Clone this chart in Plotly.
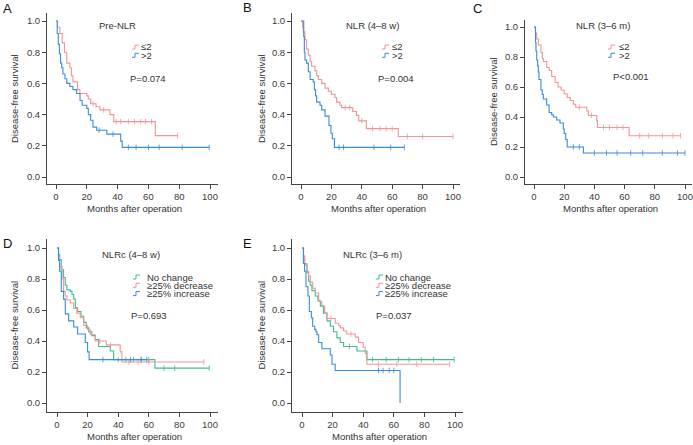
import numpy as np
import plotly.graph_objects as go

W, H = 693, 445
RED, BLUE, GREEN = "#F29595", "#3A8BDA", "#3FBD8E"
FONT = "Liberation Sans, Arial, sans-serif"

# Kaplan-Meier steps: time (months) where survival changes, survival from that time on
a_low_t = [0, 1, 2.5, 4, 5.5, 7, 9, 10, 11, 14, 15.5, 20, 21, 22.5, 26, 28.5, 35, 37.5, 64.5, 79]
a_low_s = [1.0, 0.96, 0.92, 0.86, 0.80, 0.73, 0.70, 0.65, 0.61, 0.56, 0.535, 0.52, 0.50, 0.47, 0.45, 0.43, 0.40, 0.355, 0.265, 0.265]
a_low_c = [24, 31, 39, 42, 47, 51, 55, 58, 62, 79]
a_high_t = [0, 0.8, 1.5, 2.2, 3, 3.7, 4.5, 5.8, 7, 9, 11, 13.4, 15.6, 17, 20, 21, 22.5, 24, 26.4, 33, 42, 43, 99.5]
a_high_s = [1.0, 0.92, 0.85, 0.79, 0.73, 0.70, 0.66, 0.63, 0.60, 0.58, 0.56, 0.535, 0.49, 0.46, 0.44, 0.40, 0.364, 0.32, 0.30, 0.275, 0.23, 0.19, 0.19]
a_high_c = [28, 37, 47, 52, 60, 67, 82, 99.5]

b_low_t = [0, 1, 1.5, 2.6, 3.7, 4.8, 6, 7, 9.2, 10.3, 11.4, 13.6, 15.8, 18, 20, 22.3, 23.4, 25.6, 26.7, 34, 36.5, 38, 43, 64, 100]
b_low_s = [1.0, 0.96, 0.93, 0.88, 0.82, 0.78, 0.74, 0.71, 0.68, 0.65, 0.625, 0.60, 0.57, 0.55, 0.53, 0.51, 0.48, 0.46, 0.445, 0.42, 0.395, 0.36, 0.31, 0.26, 0.26]
b_low_c = [29, 32, 40, 47, 52, 56, 60, 70, 80, 100]
b_high_t = [0, 1.8, 2.2, 2.6, 3.7, 4.8, 6, 8, 8.8, 9.6, 10.3, 12.5, 13.6, 15.8, 18.4, 19.7, 20.6, 22, 68]
b_high_s = [1.0, 0.90, 0.80, 0.75, 0.73, 0.675, 0.625, 0.61, 0.56, 0.52, 0.48, 0.46, 0.43, 0.39, 0.33, 0.28, 0.245, 0.19, 0.19]
b_high_c = [25, 28, 48, 59, 68]

c_low_t = [0, 1, 1.8, 2.9, 4.6, 5.5, 6.2, 8.4, 10, 11.7, 14, 16, 18, 20, 22, 24, 26, 27.6, 35, 36, 41.5, 42, 63, 97]
c_low_s = [1.0, 0.96, 0.92, 0.88, 0.83, 0.79, 0.77, 0.73, 0.71, 0.67, 0.63, 0.60, 0.58, 0.555, 0.53, 0.51, 0.485, 0.465, 0.44, 0.41, 0.375, 0.33, 0.275, 0.275]
c_low_c = [30, 38, 46, 50, 55, 59, 70, 76, 85, 92, 97]
c_high_t = [0, 1, 1.3, 1.8, 2.4, 2.9, 3.3, 4.6, 5.5, 6.2, 8.4, 10, 11.7, 12.8, 15, 17.2, 19.4, 20, 21, 22, 32.7, 100]
c_high_s = [1.0, 0.90, 0.84, 0.78, 0.74, 0.70, 0.65, 0.58, 0.55, 0.52, 0.48, 0.43, 0.415, 0.40, 0.38, 0.36, 0.32, 0.29, 0.25, 0.20, 0.16, 0.16]
c_high_c = [26, 30, 40, 48, 55, 64, 72, 85, 95, 100]

d_same_t = [0, 1, 1.7, 2.8, 4.3, 5.4, 6.5, 8.7, 9.8, 10.9, 12, 13.5, 15.7, 17.4, 19.1, 20.7, 22.8, 25, 27.2, 34.8, 37, 64, 99.5]
d_same_s = [1.0, 0.96, 0.925, 0.86, 0.81, 0.76, 0.73, 0.72, 0.70, 0.67, 0.615, 0.59, 0.56, 0.52, 0.485, 0.46, 0.435, 0.41, 0.365, 0.335, 0.28, 0.225, 0.225]
d_same_c = [40, 45, 50, 55, 60, 70, 77, 99.5]
d_dec_t = [0, 1, 1.7, 3.3, 4.3, 5.4, 6.5, 8.7, 10.9, 13, 15.2, 17.5, 20, 21.7, 25, 32.2, 41.3, 42.4, 96]
d_dec_s = [1.0, 0.94, 0.88, 0.80, 0.72, 0.69, 0.665, 0.645, 0.61, 0.58, 0.55, 0.50, 0.475, 0.44, 0.40, 0.375, 0.33, 0.265, 0.265]
d_dec_c = [28, 35, 47, 53, 60, 96]
d_inc_t = [0, 1, 1.7, 2.8, 4.3, 5.4, 7.6, 10.9, 13.5, 18.5, 20, 21, 58.7]
d_inc_s = [1.0, 0.92, 0.85, 0.72, 0.67, 0.575, 0.53, 0.49, 0.445, 0.39, 0.33, 0.28, 0.28]
d_inc_c = [30, 48, 55, 58.7]

e_same_t = [0, 1, 1.7, 3.3, 4.3, 5.4, 6.5, 8.7, 10.4, 12, 14, 16.3, 18.5, 20.6, 22.8, 25, 27.2, 35.9, 42.4, 99.5]
e_same_s = [1.0, 0.94, 0.89, 0.84, 0.785, 0.76, 0.725, 0.69, 0.66, 0.625, 0.58, 0.53, 0.495, 0.46, 0.42, 0.39, 0.365, 0.335, 0.28, 0.28]
e_same_c = [31, 46, 55, 63, 70, 78, 86, 99.5]
e_dec_t = [0, 1, 1.7, 3.3, 4.3, 5.4, 7, 8.7, 10.9, 13, 14.8, 16.3, 21.7, 24, 25, 27.2, 29.3, 34.8, 37, 40, 41.3, 42.4, 96.5]
e_dec_s = [1.0, 0.95, 0.90, 0.85, 0.82, 0.78, 0.74, 0.71, 0.655, 0.625, 0.58, 0.545, 0.515, 0.50, 0.485, 0.465, 0.445, 0.425, 0.39, 0.36, 0.32, 0.25, 0.25]
e_dec_c = [19, 32, 50, 62, 75, 96.5]
e_inc_t = [0, 0.9, 1.7, 2.6, 3.9, 4.8, 6.1, 7, 8.3, 9.1, 9.8, 10.9, 13, 18.5, 19.6, 21.7, 64.1]
e_inc_s = [1.0, 0.90, 0.85, 0.75, 0.69, 0.59, 0.55, 0.495, 0.475, 0.46, 0.44, 0.39, 0.35, 0.31, 0.25, 0.21, 0.0]
e_inc_c = [50, 53, 57, 60]

x_ticks = [0, 20, 40, 60, 80, 100]
y_ticks = [0.0, 0.2, 0.4, 0.6, 0.8, 1.0]

# panel: letter, title, p-value, curves, plot box px (left, top, right, bottom), px of x=0/100 and y=1/0
panels = [
    dict(k="A", title="Pre-NLR", p="P=0.074", box=(47, 13, 218, 184), x0=56, x100=210, y1=21, y0=177,
         curves=[("≤2", RED, a_low_t, a_low_s, a_low_c), (">2", BLUE, a_high_t, a_high_s, a_high_c)],
         letter=(2, 9), ttl=(117, 25), leg=(132, 47), tdx=8, pv=(129, 78), ytl=14),
    dict(k="B", title="NLR (4–8 w)", p="P=0.004", box=(292, 13, 460, 184), x0=301, x100=453, y1=21, y0=177,
         curves=[("≤2", RED, b_low_t, b_low_s, b_low_c), (">2", BLUE, b_high_t, b_high_s, b_high_c)],
         letter=(242, 8), ttl=(373, 25), leg=(382, 47), tdx=9, pv=(377, 78), ytl=261),
    dict(k="C", title="NLR (3–6 m)", p="P<0.001", box=(525, 20, 692, 184), x0=534, x100=685, y1=27, y0=177,
         curves=[("≤2", RED, c_low_t, c_low_s, c_low_c), (">2", BLUE, c_high_t, c_high_s, c_high_c)],
         letter=(472, 9), ttl=(603, 25), leg=(608, 47), tdx=10, pv=(612, 77), ytl=494),
    dict(k="D", title="NLRc (4–8 w)", p="P=0.693", box=(47, 239, 218, 412), x0=57, x100=210, y1=248, y0=403,
         curves=[("No change", GREEN, d_same_t, d_same_s, d_same_c), ("≥25% decrease", RED, d_dec_t, d_dec_s, d_dec_c),
                 ("≥25% increase", BLUE, d_inc_t, d_inc_s, d_inc_c)],
         letter=(2, 243), ttl=(131, 254), leg=(133, 277), tdx=13, pv=(130, 315), ytl=14),
    dict(k="E", title="NLRc (3–6 m)", p="P=0.037", box=(292, 239, 463, 412), x0=302, x100=455, y1=248, y0=403,
         curves=[("No change", GREEN, e_same_t, e_same_s, e_same_c), ("≥25% decrease", RED, e_dec_t, e_dec_s, e_dec_c),
                 ("≥25% increase", BLUE, e_inc_t, e_inc_s, e_inc_c)],
         letter=(242, 243), ttl=(372, 254), leg=(376, 277), tdx=8, pv=(375, 315), ytl=261),
]

def px(x, y):
    return x / W, 1 - y / H

def label(x, y, text, size=9.5, anchor="left", color="#333", **kw):
    ax, ay = px(x, y)
    return dict(x=ax, y=ay, xref="paper", yref="paper", text=text, showarrow=False, xanchor=anchor,
                yanchor="middle", borderpad=0, font=dict(size=size, color=color), **kw)

fig = go.Figure()
layout = dict(width=W, height=H, margin=dict(l=0, r=0, t=0, b=0, pad=0), plot_bgcolor="white", paper_bgcolor="white",
              showlegend=False, hovermode=False, font=dict(family=FONT, size=9, color="#333"))
annotations, shapes = [], []
axis_style = dict(showline=True, linecolor="#444", linewidth=1, ticks="outside", ticklen=4, tickcolor="#444",
                  showgrid=False, zeroline=False, tickfont=dict(size=9.5, color="#3a3a3a"))

for i, p in enumerate(panels, start=1):
    xa, ya = ("x", "y") if i == 1 else (f"x{i}", f"y{i}")
    l, t, r, b = p["box"]
    sx = (p["x100"] - p["x0"]) / 100; sy = p["y0"] - p["y1"]
    xr = [(l - p["x0"]) / sx, (r - p["x0"]) / sx]
    yr = [(p["y0"] - b) / sy, (p["y0"] - t) / sy]
    layout["xaxis" if i == 1 else f"xaxis{i}"] = dict(axis_style, domain=[l / W, r / W], range=xr, anchor=ya, tickvals=x_ticks)
    layout["yaxis" if i == 1 else f"yaxis{i}"] = dict(axis_style, domain=[1 - b / H, 1 - t / H], range=yr, anchor=xa,
                                                     tickvals=y_ticks, tickformat=".1f")
    for name, color, ts, ss, cs in p["curves"]:
        fig.add_trace(go.Scatter(x=ts, y=ss, mode="lines", line=dict(color=color, width=1.1, shape="hv"),
                                 xaxis=xa, yaxis=ya, name=name))
        idx = np.searchsorted(ts, cs, side="right") - 1
        fig.add_trace(go.Scatter(x=cs, y=np.array(ss)[idx], mode="markers", xaxis=xa, yaxis=ya,
                                 marker=dict(symbol="line-ns-open", size=4, color=color,
                                             line=dict(color=color, width=0.8))))
    annotations.append(label(*p["letter"], p["k"], size=13, color="#111"))
    annotations.append(label(*p["ttl"], p["title"], anchor="center"))
    annotations.append(label(*p["pv"], p["p"]))
    annotations.append(label((l + r) / 2 + 2, b + 24, "Months after operation", anchor="center"))
    annotations.append(label(p["ytl"], (p["y0"] + p["y1"]) / 2, "Disease-free survival", anchor="center", textangle=-90))
    # legend: small step glyph + label
    gx, gy = p["leg"]
    for j, (name, color, *_rest) in enumerate(p["curves"]):
        yrow = gy + j * 8.3
        x0, y0 = px(gx, yrow + 2)
        xm, ym = px(gx + 3, yrow - 2)
        x1, _ = px(gx + 7, yrow)
        shapes.append(dict(type="path", xref="paper", yref="paper", line=dict(color=color, width=1),
                           path=f"M {x0},{y0} H {xm} V {ym} H {x1}"))
        annotations.append(label(gx + p["tdx"], yrow, name))

layout["annotations"] = annotations
layout["shapes"] = shapes
fig.update_layout(**layout)
fig.write_html("out.html", config={"displayModeBar": False, "staticPlot": True},
               post_script="document.body.style.margin='0';document.body.style.overflow='hidden';")
